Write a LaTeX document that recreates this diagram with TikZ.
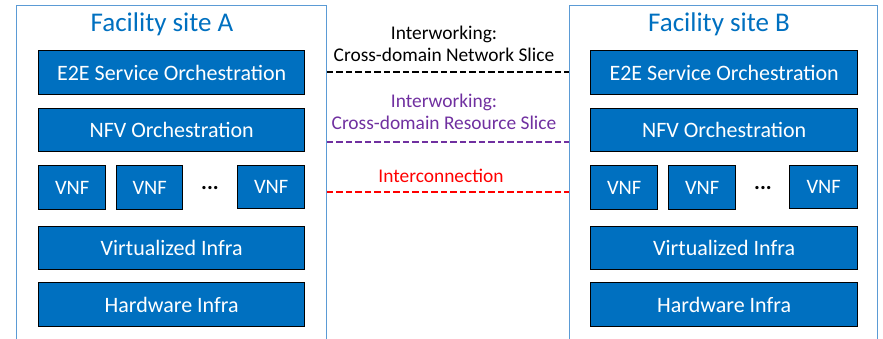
\documentclass[tikz,border=0pt]{standalone}
\usepackage{fontspec}
\setmainfont{Carlito}
\definecolor{boxblue}{HTML}{0070C0}
\definecolor{framebl}{HTML}{5B9BD5}
\definecolor{titleblue}{HTML}{0070C0}
\definecolor{slicepurple}{HTML}{7030A0}
\definecolor{linkred}{HTML}{FF0000}
\begin{document}
\begin{tikzpicture}[x=1pt,y=-1pt,
  layer/.style={draw=black,line width=1.3pt,fill=boxblue,text=white,
    font=\fontsize{22}{24}\selectfont,inner sep=0pt,anchor=north west},
  wide/.style={layer,minimum width=266pt,minimum height=44pt},
  vnf/.style={layer,minimum width=67pt,minimum height=44pt,font=\fontsize{20.5}{22}\selectfont},
  dots/.style={font=\fontsize{22}{22}\selectfont\bfseries},
  site/.style={draw=framebl,line width=0.8pt,inner sep=0pt,anchor=north west,
    minimum height=345pt},
  sitetitle/.style={text=titleblue,font=\fontsize{27}{29}\selectfont},
  linklabel/.style={font=\fontsize{19.4}{22}\selectfont,align=center},
  link/.style={line width=2pt,dash pattern=on 6.5pt off 3pt}]
\useasboundingbox (0,0) rectangle (883,338);
\clip (0,0) rectangle (883,338);

% facility frames (they run past the lower edge)
\node[site,minimum width=310pt] (siteA) at (16,5) {};
\node[site,minimum width=308pt] (siteB) at (569,5) {};
\node[sitetitle] (titleA) at (162,24) {Facility site A};
\node[sitetitle] (titleB) at (719,24) {Facility site B};

% layer stack, site A
\node[wide] (e2eA) at (38,50) {E2E Service Orchestration};
\node[wide,minimum height=43pt] (nfvA) at (38,108) {NFV Orchestration};
\node[vnf] (vnfA1) at (38,165) {VNF};
\node[vnf,minimum width=66pt] (vnfA2) at (116,165) {VNF};
\node[dots] (dotsA) at (210,188) {...};
\node[vnf,minimum height=43pt] (vnfA3) at (237,165) {VNF};
\node[wide,minimum height=43pt] (virtA) at (38,226) {Virtualized Infra};
\node[wide] (hwA) at (38,282) {Hardware Infra};

% layer stack, site B
\node[wide,minimum width=267pt] (e2eB) at (590,50) {E2E Service Orchestration};
\node[wide,minimum width=267pt,minimum height=43pt] (nfvB) at (590,108) {NFV Orchestration};
\node[vnf] (vnfB1) at (590,165) {VNF};
\node[vnf] (vnfB2) at (668,165) {VNF};
\node[dots] (dotsB) at (763,188) {...};
\node[vnf,minimum width=68pt,minimum height=43pt] (vnfB3) at (789,165) {VNF};
\node[wide,minimum width=267pt,minimum height=43pt] (virtB) at (590,226) {Virtualized Infra};
\node[wide,minimum width=267pt] (hwB) at (590,282) {Hardware Infra};

% inter-site links
\node[linklabel,text=black] (lblNet) at (444,44) {Interworking:\\Cross-domain Network Slice};
\draw[link,black] (siteA.east |- 0,72) -- (siteB.west |- 0,72);
\node[linklabel,text=slicepurple] (lblRes) at (444,112) {Interworking:\\Cross-domain Resource Slice};
\draw[link,slicepurple] (siteA.east |- 0,142) -- (siteB.west |- 0,142);
\node[linklabel,text=linkred] (lblInt) at (441,176) {Interconnection};
\draw[link,linkred] (siteA.east |- 0,192) -- (siteB.west |- 0,192);
\end{tikzpicture}
\end{document}
